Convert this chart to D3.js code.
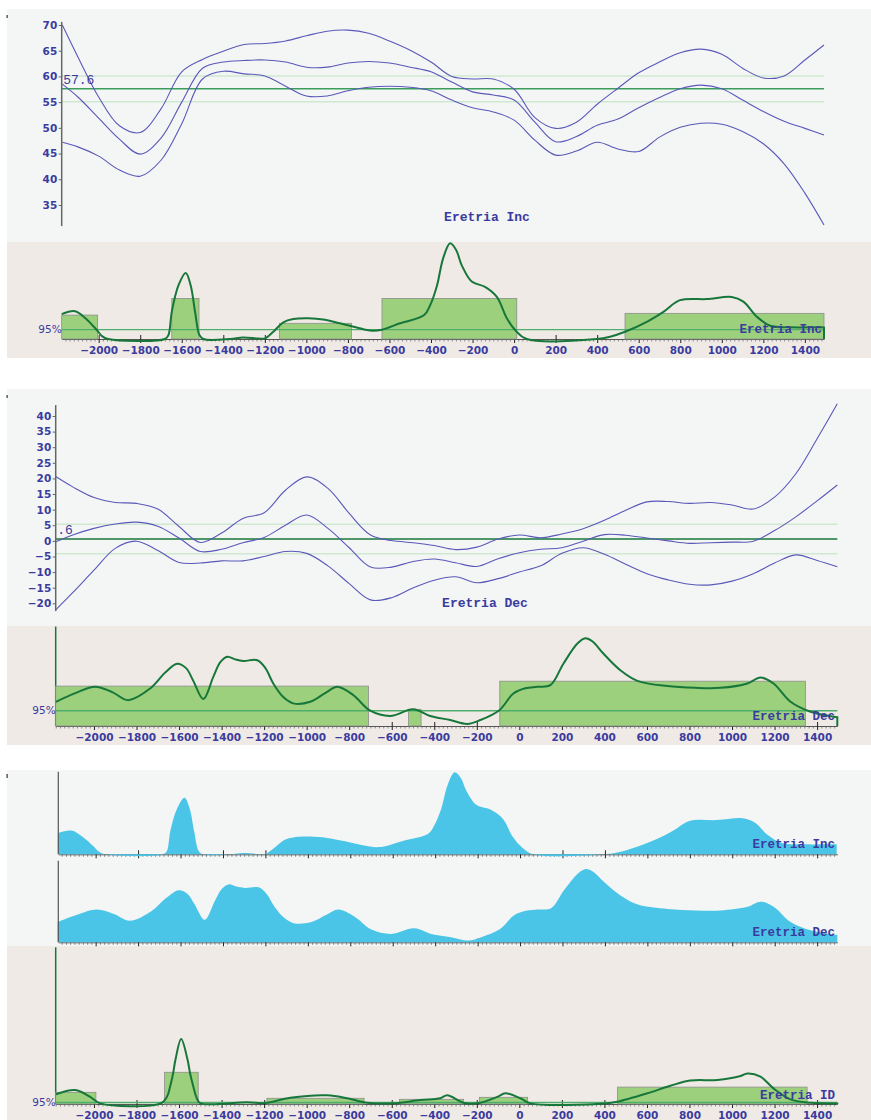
<!DOCTYPE html>
<html>
<head>
<meta charset="utf-8">
<script src="https://cdn.jsdelivr.net/npm/d3@7"></script>
<style>
  body { margin: 0; background: #fff; }
  svg { display: block; }
</style>
</head>
<body>
<svg id="chart" width="871" height="1120"></svg>
<script>
// ---- tick labels ----
const xTicks = [-2000, -1800, -1600, -1400, -1200, -1000, -800, -600, -400, -200, 0, 200, 400, 600, 800, 1000, 1200, 1400];
const incTicks = [35, 40, 45, 50, 55, 60, 65, 70];
const decTicks = [-20, -15, -10, -5, 0, 5, 10, 15, 20, 25, 30, 35, 40];

// ---- inclination curves (years, upper / mean / lower) ----
const incYears = [-2175, -2100, -2000, -1900, -1800, -1700, -1600, -1500, -1400, -1300, -1200, -1100, -1000, -900, -800, -700, -600, -500, -400, -300, -200, -100, 0, 100, 200, 300, 400, 500, 600, 700, 800, 900, 1000, 1100, 1200, 1300, 1400, 1492];
const incUpper = [70, 63.8, 56.0, 50.4, 49.1, 53.7, 60.9, 63.3, 64.9, 66.2, 66.4, 66.9, 67.9, 68.8, 69.0, 68.4, 66.9, 65.1, 62.8, 60.0, 59.5, 59.5, 57.5, 52.0, 49.9, 51.1, 54.6, 57.7, 60.7, 62.8, 64.6, 65.3, 64.3, 61.6, 59.7, 60.1, 63.2, 66.1];
const incMean = [58.5, 56.0, 51.9, 47.8, 44.9, 48.0, 55.0, 61.6, 62.8, 63.1, 63.2, 62.8, 61.8, 61.8, 62.6, 62.9, 62.6, 61.8, 60.9, 58.9, 57.0, 56.4, 55.4, 51.1, 47.3, 48.3, 50.5, 51.7, 53.9, 55.9, 57.6, 58.3, 57.6, 55.4, 53.2, 51.3, 49.9, 48.6];
const incLower = [47.2, 46.3, 44.5, 41.8, 40.6, 43.7, 50.8, 59.5, 61.0, 60.5, 60.1, 58.1, 56.2, 56.2, 57.2, 57.9, 58.1, 57.9, 57.2, 55.4, 53.9, 53.1, 51.5, 47.6, 44.7, 45.5, 47.2, 45.9, 45.4, 48.2, 50.1, 50.9, 50.7, 49.3, 46.9, 43.0, 37.3, 31.1];
const incRef = 57.6, incA95 = 2.5;

// ---- declination curves ----
const decYears = [-2180, -2100, -2000, -1900, -1800, -1700, -1600, -1500, -1400, -1300, -1200, -1100, -1000, -900, -800, -700, -600, -500, -400, -300, -200, -100, 0, 100, 200, 300, 400, 500, 600, 700, 800, 900, 1000, 1100, 1200, 1300, 1400, 1495];
const decUpper = [20.6, 17.3, 13.9, 12.3, 12.0, 10.2, 4.6, -0.5, 2.5, 7.2, 9.0, 16.2, 20.5, 16.8, 8.8, 1.9, 0.1, -0.6, -1.5, -2.8, -2.0, 0.6, 1.9, 1.0, 2.2, 3.9, 6.6, 9.8, 12.5, 12.6, 12.0, 12.3, 11.5, 10.2, 14.0, 21.5, 32.7, 43.9];
const decMean = [-0.3, 1.9, 4.0, 5.4, 6.0, 4.7, 0.9, -3.4, -2.7, -0.6, 1.1, 5.0, 8.3, 4.0, -2.2, -8.4, -8.4, -6.6, -5.8, -7.0, -8.2, -5.7, -3.8, -2.7, -2.2, -0.1, 2.0, 1.8, 0.9, 0.0, -0.8, -0.6, -0.4, -0.1, 3.3, 7.7, 12.8, 17.9];
const decLower = [-22.1, -16.6, -9.4, -2.4, -0.1, -3.1, -6.9, -7.1, -6.4, -6.4, -5.0, -3.4, -4.0, -8.0, -13.7, -18.9, -18.2, -15.1, -12.6, -11.5, -13.4, -12.1, -10.0, -8.0, -4.0, -2.2, -4.3, -7.5, -10.5, -12.5, -13.9, -14.1, -12.9, -10.5, -7.1, -4.5, -6.3, -8.3];
const decRef = 0.6, decA95 = 4.7;

// ---- probability densities (normalised to peak = 1) ----
const incPdfYears = [-2178, -2114, -2065, -2009, -1984, -1955, -1681, -1664, -1648, -1616, -1581, -1557, -1536, -1515, -1496, -1367, -1305, -1230, -1199, -1159, -1111, -1063, -991, -910, -838, -722, -679, -636, -549, -433, -404, -371, -342, -308, -279, -252, -204, -140, -83, -35, 5, 61, 398, 462, 534, 639, 719, 799, 928, 1048, 1104, 1169, 1233, 1329, 1481, 1492];
const incPdf = [0.26, 0.29, 0.22, 0.094, 0.03, 0, 0, 0.042, 0.285, 0.56, 0.69, 0.56, 0.285, 0.042, 0, 0, 0.016, 0.004, 0.007, 0.076, 0.174, 0.208, 0.216, 0.2, 0.164, 0.10, 0.086, 0.097, 0.164, 0.25, 0.354, 0.56, 0.84, 1.0, 0.93, 0.77, 0.60, 0.545, 0.44, 0.216, 0.094, 0, 0, 0.024, 0.076, 0.18, 0.284, 0.406, 0.417, 0.44, 0.39, 0.232, 0.139, 0.122, 0.122, 0.12];
const decPdfYears = [-2179, -2088, -1994, -1914, -1839, -1736, -1665, -1609, -1567, -1534, -1486, -1439, -1406, -1373, -1336, -1298, -1232, -1194, -1157, -1110, -1063, -983, -913, -856, -781, -701, -607, -499, -419, -325, -245, -183, -94, -28, 28, 85, 146, 207, 273, 310, 343, 395, 475, 555, 696, 828, 945, 1072, 1134, 1195, 1275, 1369, 1477, 1495];
const decPdf = [0.276, 0.375, 0.447, 0.386, 0.295, 0.428, 0.61, 0.71, 0.66, 0.52, 0.307, 0.56, 0.727, 0.79, 0.76, 0.742, 0.75, 0.66, 0.485, 0.33, 0.258, 0.276, 0.375, 0.447, 0.352, 0.174, 0.114, 0.19, 0.114, 0.068, 0.023, 0.068, 0.18, 0.37, 0.43, 0.447, 0.466, 0.71, 0.94, 1.0, 0.966, 0.826, 0.636, 0.515, 0.455, 0.435, 0.435, 0.485, 0.553, 0.485, 0.276, 0.163, 0.106, 0.1];
const idPdfYears = [-2179, -2088, -2018, -1971, -1689, -1657, -1642, -1628, -1617, -1590, -1560, -1548, -1533, -1519, -1501, -1279, -1195, -1077, -903, -809, -715, -593, -466, -372, -339, -263, -198, -103, -66, 5, 52, 405, 461, 602, 710, 804, 931, 1040, 1072, 1134, 1195, 1275, 1369, 1495];
const idPdf = [0.15, 0.215, 0.11, 0.01, 0.005, 0.11, 0.27, 0.47, 0.68, 1.0, 0.68, 0.47, 0.27, 0.11, 0.015, 0.026, 0.015, 0.097, 0.134, 0.088, 0.02, 0.01, 0.06, 0.088, 0.134, 0.02, 0.01, 0.11, 0.165, 0.088, 0.01, 0.008, 0.035, 0.165, 0.28, 0.36, 0.37, 0.43, 0.47, 0.42, 0.24, 0.072, 0.02, 0.008];

// ---- 95% intervals (from, to, height) ----
const incBarFrom = [-2178, -1648, -1130, -636, 534];
const incBarTo = [-2005, -1517, -783, 13, 1492];
const incBarP = [0.25, 0.424, 0.164, 0.424, 0.268];
const inc95 = 0.097;
const decBarFrom = [-2180, -521, -92];
const decBarTo = [-709, -462, 1345];
const decBarP = [0.455, 0.19, 0.511];
const dec95 = 0.174;
const idBarFrom = [-2180, -1668, -1187, -564, -188, 462];
const idBarTo = [-1991, -1510, -730, -262, 39, 1353];
const idBarP = [0.18, 0.488, 0.088, 0.072, 0.103, 0.26];
const id95 = 0.023;

// ---- styling ----
const svg = d3.select("#chart");
const txtBlue = "#3b3b9f";
const lineBlue = "#5a58b8";
const dkGreen = "#17773a";
const barFill = "#9cd07c";
const sans = "DejaVu Sans, Verdana, sans-serif";
const mono = "Liberation Mono, Courier New, monospace";

const zip = (a, b) => a.map((v, i) => [v, b[i]]);
const smooth = d3.curveCatmullRom.alpha(0.5);

// backgrounds
[[9, 242, "#f4f6f6"], [242, 358, "#efeae5"], [389, 626, "#f4f6f6"], [626, 745, "#efeae5"],
 [770, 946, "#f4f6f6"], [946, 1120, "#efeae5"]].forEach(([y0, y1, c]) => {
  svg.append("rect").attr("x", 7).attr("y", y0).attr("width", 864).attr("height", y1 - y0).attr("fill", c);
});
[[15, 3], [395, 3], [774, 4]].forEach(([y, h]) => {
  svg.append("rect").attr("x", 6.5).attr("y", y).attr("width", 1.2).attr("height", h).attr("fill", "#333");
});

// scales
const xInc = d3.scaleLinear().domain([-2178, 1492]).range([61.7, 824]);
const xDec = d3.scaleLinear().domain([-2180, 1495]).range([55.7, 837.3]);
const xStack = d3.scaleLinear().domain([-2176, 1495]).range([58.3, 837.3]);

function xAxis(x, y0, labels) {
  const g = svg.append("g").attr("transform", `translate(0,${y0})`);
  const [d0, d1] = x.domain();
  const minor = d3.range(Math.ceil(d0 / 20) * 20, d1, 20).filter(v => v % 200 !== 0);
  g.append("g").call(d3.axisBottom(x).tickValues(minor).tickSize(2.5).tickFormat(""))
    .call(s => s.select(".domain").remove())
    .selectAll("line").attr("stroke", "#8c8c8c");
  const major = g.append("g").call(d3.axisBottom(x).tickValues(xTicks)
    .tickSizeInner(4).tickSizeOuter(0).tickPadding(4)
    .tickFormat(labels ? d3.format("d") : ""));
  major.select(".domain").attr("stroke", "#555");
  major.selectAll(".tick line").attr("y1", -4).attr("stroke", "#222");
  major.selectAll("text").attr("fill", txtBlue).attr("font-family", sans)
    .attr("font-weight", "bold").attr("font-size", 10.5);
}

function dirPanel(x, y, years, series, ref, a95, ticks, axisVals, refColor, refText, title, titleX, titleY) {
  const [x0, x1] = x.range();
  [ref + a95, ref - a95].forEach(v => {
    svg.append("line").attr("x1", x0).attr("x2", x1).attr("y1", y(v)).attr("y2", y(v))
      .attr("stroke", "#cfe8cf").attr("stroke-width", 1.5);
  });
  svg.append("line").attr("x1", x0).attr("x2", x1).attr("y1", y(ref)).attr("y2", y(ref))
    .attr("stroke", refColor).attr("stroke-width", 1.5);
  const line = d3.line().x(d => x(d[0])).y(d => y(d[1])).curve(smooth);
  series.forEach(s => {
    svg.append("path").attr("d", line(zip(years, s))).attr("fill", "none")
      .attr("stroke", lineBlue).attr("stroke-width", 1.1);
  });
  const ax = svg.append("g").attr("transform", `translate(${x0},0)`)
    .call(d3.axisLeft(y).tickValues(ticks).tickSize(3).tickPadding(1.5));
  ax.select(".domain").remove();
  ax.selectAll(".tick line").attr("stroke", "#666");
  ax.selectAll("text").attr("fill", txtBlue).attr("font-family", sans)
    .attr("font-weight", "bold").attr("font-size", 10.5);
  svg.append("line").attr("x1", x0).attr("x2", x0).attr("y1", y(axisVals[0])).attr("y2", y(axisVals[1]))
    .attr("stroke", "#666").attr("stroke-width", 1.5);
  svg.append("text").attr("x", x0 + 1.5).attr("y", y(ref) - 4.5).text(refText)
    .attr("font-family", mono).attr("font-size", 13).attr("fill", txtBlue);
  svg.append("text").attr("x", titleX).attr("y", titleY).text(title).attr("text-anchor", "middle")
    .attr("font-family", mono).attr("font-weight", "bold").attr("font-size", 13).attr("fill", txtBlue);
}

function probPanel(x, y, years, pdf, from, to, p, p95, label, labelX, labelY, axisLine) {
  const [x0, x1] = x.range();
  const base = y(0);
  xAxis(x, base, true);
  if (axisLine) {
    svg.append("line").attr("x1", x0).attr("x2", x0).attr("y1", axisLine).attr("y2", base)
      .attr("stroke", dkGreen).attr("stroke-width", 1.5);
  }
  from.forEach((f, i) => {
    svg.append("rect").attr("x", x(f)).attr("y", y(p[i]))
      .attr("width", x(to[i]) - x(f)).attr("height", base - y(p[i]))
      .attr("fill", barFill).attr("stroke", "#8e8e8e").attr("stroke-width", 0.8);
  });
  svg.append("line").attr("x1", x0).attr("x2", x1).attr("y1", y(p95)).attr("y2", y(p95))
    .attr("stroke", "#4fae6c").attr("stroke-width", 1.3);
  svg.append("text").attr("x", x0).attr("y", y(p95) + 3.5).attr("text-anchor", "end").text("95%")
    .attr("font-family", sans).attr("font-size", 10.5).attr("fill", txtBlue);
  const line = d3.line().x(d => x(d[0])).y(d => Math.min(base, y(d[1]))).curve(smooth);
  svg.append("path").attr("d", line(zip(years, pdf)) + "V" + base)
    .attr("fill", "none").attr("stroke", dkGreen).attr("stroke-width", 2);
  svg.append("text").attr("x", labelX).attr("y", labelY).attr("text-anchor", "end").text(label)
    .attr("font-family", mono).attr("font-weight", "bold").attr("font-size", 12.5).attr("fill", txtBlue);
}

// ---- Inclination ----
const yInc = d3.scaleLinear().domain([35, 70]).range([205, 25]);
dirPanel(xInc, yInc, incYears, [incUpper, incMean, incLower], incRef, incA95, incTicks, [70.6, 30.9],
  "#3a9d5c", "57.6", "Eretria Inc", 487, 221);
const yIncP = d3.scaleLinear().domain([0, 1]).range([339, 243.3]);
probPanel(xInc, yIncP, incPdfYears, incPdf, incBarFrom, incBarTo, incBarP, inc95, "Eretria Inc", 822, 332.5, null);

// ---- Declination ----
const yDec = d3.scaleLinear().domain([-20, 40]).range([603.3, 416]);
dirPanel(xDec, yDec, decYears, [decUpper, decMean, decLower], decRef, decA95, decTicks, [43.5, -22.5],
  dkGreen, ".6", "Eretria Dec", 485, 607);
const yDecP = d3.scaleLinear().domain([0, 1]).range([726, 638.3]);
probPanel(xDec, yDecP, decPdfYears, decPdf, decBarFrom, decBarTo, decBarP, dec95, "Eretria Dec", 835, 720, 626.5);

// ---- stacked densities ----
const stacks = [
  { years: incPdfYears, pdf: incPdf, y: d3.scaleLinear().domain([0, 1]).range([854.3, 772.3]), top: 771.7, label: "Eretria Inc" },
  { years: decPdfYears, pdf: decPdf, y: d3.scaleLinear().domain([0, 1]).range([942.3, 869]), top: 860.7, label: "Eretria Dec" }
];
stacks.forEach(s => {
  const base = s.y(0);
  xAxis(xStack, base, false);
  const area = d3.area().x(d => xStack(d[0])).y0(base).y1(d => Math.min(base, s.y(d[1]))).curve(smooth);
  svg.append("path").attr("d", area(zip(s.years, s.pdf))).attr("fill", "#4bc5e7");
  svg.append("line").attr("x1", xStack(-2176)).attr("x2", xStack(-2176)).attr("y1", s.top).attr("y2", base)
    .attr("stroke", "#555").attr("stroke-width", 1.2);
  svg.append("text").attr("x", 835).attr("y", base - 6).attr("text-anchor", "end").text(s.label)
    .attr("font-family", mono).attr("font-weight", "bold").attr("font-size", 12.5).attr("fill", txtBlue);
});

// ---- combined ID ----
const yId = d3.scaleLinear().domain([0, 2.4]).range([1104, 948]);
probPanel(xDec, yId, idPdfYears, idPdf, idBarFrom, idBarTo, idBarP, id95, "Eretria ID", 835, 1099.3, 947.3);
</script>
</body>
</html>
